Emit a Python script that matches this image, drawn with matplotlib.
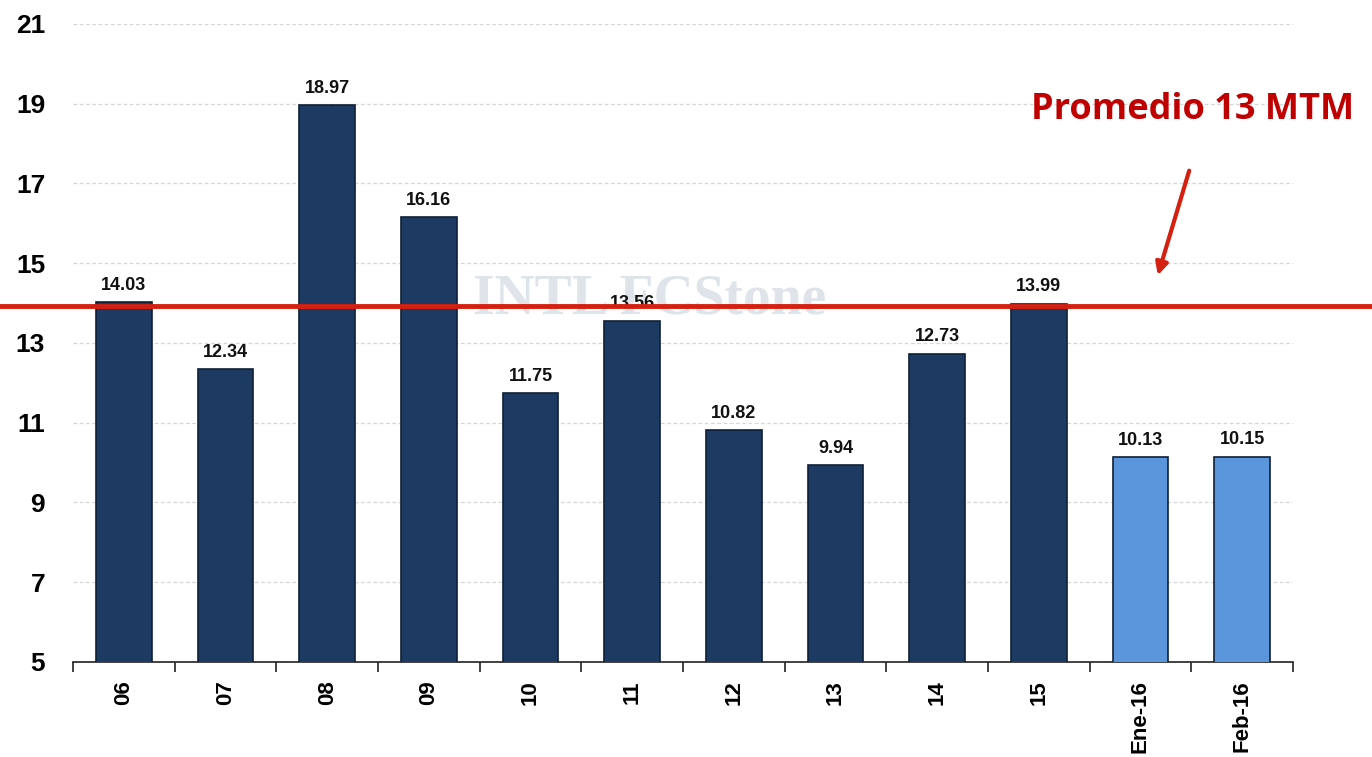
import numpy as np
import matplotlib.pyplot as plt
import matplotlib.transforms as mtransforms

# datos
categorias = ['06', '07', '08', '09', '10', '11', '12', '13', '14', '15', 'Ene-16', 'Feb-16']
valores = [14.03, 12.34, 18.97, 16.16, 11.75, 13.56, 10.82, 9.94, 12.73, 13.99, 10.13, 10.15]
es_mes = [False] * 10 + [True, True]
promedio = 13.93
y_ticks = [5, 7, 9, 11, 13, 15, 17, 19, 21]

color_anual = '#1d3a63'
color_mes = '#5b95db'

plt.rcParams['font.family'] = ['Liberation Sans', 'DejaVu Sans']

fig = plt.figure(figsize=(13.72, 7.57), dpi=100)
ax = fig.add_axes([0.0532, 0.1255, 0.8892, 0.8428])

x = np.arange(len(categorias))
colores = [color_mes if m else color_anual for m in es_mes]
ax.bar(x, valores, width=0.55, color=colores, edgecolor='#0f2038', linewidth=1.2, zorder=3)

for xi, v in zip(x, valores):
    ax.annotate(f'{v:.2f}', (xi, v), xytext=(0, 6), textcoords='offset points',
                ha='center', va='bottom', fontsize=13, fontweight='bold', color='#111111', zorder=4)

ax.set_xlim(-0.5, len(categorias) - 0.5)
ax.set_ylim(5, 21)
ax.set_yticks(y_ticks)
ax.yaxis.grid(True, color='#d6d6d6', linestyle=(0, (3, 2)), linewidth=0.9, zorder=0)
ax.set_axisbelow(True)

ax.set_xticks(x)
ax.set_xticklabels(categorias, rotation=90, fontsize=16, fontweight='bold', va='top')
ax.set_xticks(np.arange(-0.5, len(categorias)), minor=True)
ax.tick_params(axis='x', which='major', length=0, pad=13)
ax.tick_params(axis='x', which='minor', length=7, width=1.2, color='#222222')
ax.tick_params(axis='y', length=0, pad=20, labelsize=19)
for t in ax.get_yticklabels():
    t.set_fontweight('bold')

for s in ['left', 'right', 'top']:
    ax.spines[s].set_visible(False)
ax.spines['bottom'].set_color('#222222')
ax.spines['bottom'].set_linewidth(1.2)

# marca de agua
ax.text(5.17, 14.1, 'INTL FCStone', fontsize=40, fontweight='bold', family='Liberation Serif',
        color='#dfe3ea', ha='center', va='center', zorder=1)

# linea de promedio a todo el ancho
trans = mtransforms.blended_transform_factory(fig.transFigure, ax.transData)
ax.plot([0, 1], [promedio, promedio], transform=trans, color='#d42010', linewidth=3.5,
        clip_on=False, zorder=5)

fig.text(0.987, 0.8547, 'Promedio 13 MTM', color='#c00000', fontsize=26, fontweight='bold',
         family=['Open Sans', 'DejaVu Sans'], ha='right', va='center')
ax.annotate('', xy=(1157 / 1372, 1 - 278 / 757), xytext=(1190 / 1372, 1 - 168 / 757),
            xycoords='figure fraction', textcoords='figure fraction',
            arrowprops=dict(arrowstyle='-|>', color='#d42010', lw=3, mutation_scale=18))

fig.savefig('out.png', dpi=100)
